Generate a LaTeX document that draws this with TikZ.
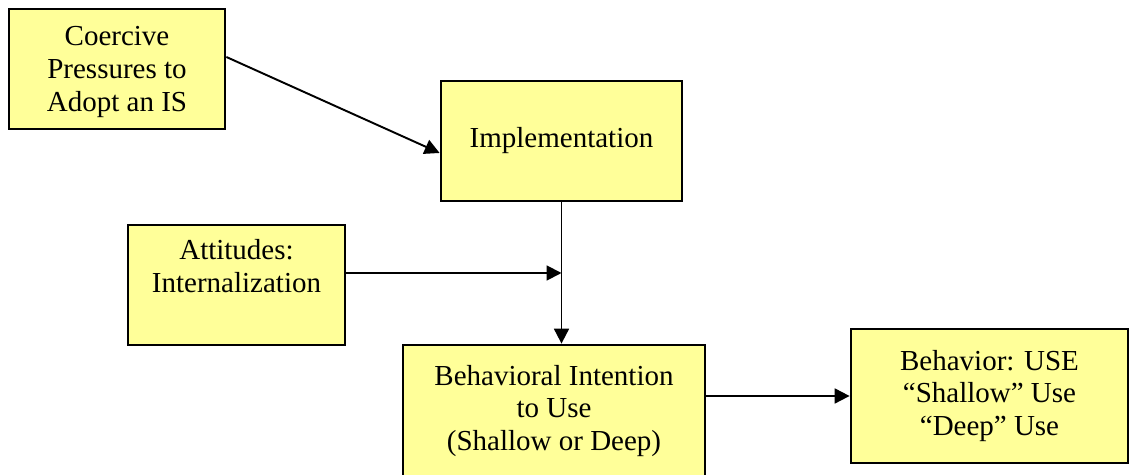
\documentclass[tikz,border=0pt]{standalone}
\usepackage{fontspec}
\setmainfont{Liberation Serif}
\usetikzlibrary{arrows.meta}
\pgfdeclarelayer{edgelayer}
\pgfdeclarelayer{nodelayer}
\pgfsetlayers{edgelayer,nodelayer,main}
\definecolor{boxyellow}{RGB}{255,255,153}
\tikzstyle{factor}=[rectangle,fill=boxyellow,draw=black,line width=1.6pt,align=center,inner sep=0pt,font=\fontsize{16.5}{18.7}\selectfont]
\tikzstyle{influence}=[-{Triangle[length=8.5pt,width=8.5pt]},draw=black,line width=1.1pt]

\begin{document}
\begin{tikzpicture}[x=0.02cm,y=-0.02cm]
	\useasboundingbox (0,0) rectangle (1130,475);
	\clip (0,0) rectangle (1130,475);
	\begin{pgfonlayer}{nodelayer}
		\node [style=factor, minimum width=4.32cm, minimum height=2.4cm] (0) at (117, 69) {\rule{0pt}{14pt}Coercive\\Pressures to\\Adopt an IS};
		\node [style=factor, minimum width=4.82cm, minimum height=2.4cm] (1) at (561.5, 141) {Implementation};
		\node [style=factor, minimum width=4.34cm, minimum height=2.4cm] (2) at (236.5, 285) {\rule{0pt}{14pt}Attitudes:\\Internalization\\\strut};
		\node [style=factor, minimum width=6.04cm, minimum height=2.64cm] (3) at (554, 411) {Behavioral Intention\\to Use\\(Shallow or Deep)};
		\node [style=factor, minimum width=5.54cm, minimum height=2.68cm] (4) at (989.5, 396) {Behavior: USE\\``Shallow'' Use\\``Deep'' Use};
	\end{pgfonlayer}
	\begin{pgfonlayer}{edgelayer}
		\coordinate (5) at ([yshift=0.24cm]2.east);
		\coordinate (6) at (1.south |- 5);
		\draw [style=influence] ([yshift=0.24cm]0.east) to ([yshift=-0.24cm]1.west);
		\draw [style=influence] (1.south) to (1.south |- 3.north);
		\draw [style=influence] (5) to (6);
		\draw [style=influence] (4.west -| 3.east) to (4.west);
	\end{pgfonlayer}
\end{tikzpicture}
\end{document}
